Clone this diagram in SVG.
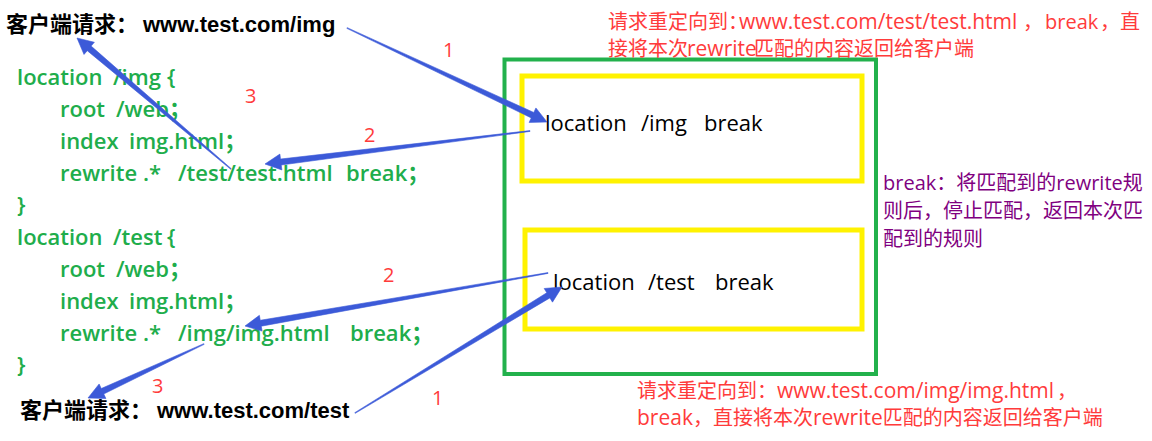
<svg xmlns="http://www.w3.org/2000/svg" width="1152" height="441" viewBox="0 0 1152 441">
<style>
.hdr{font-family:"Liberation Sans","Noto Sans CJK SC",sans-serif;font-size:22px;font-weight:bold;fill:#000}
.code{font-family:"Open Sans","Noto Sans CJK SC",sans-serif;font-size:22px;font-weight:600;fill:#20AD4B}
.loc{font-family:"Open Sans","Noto Sans CJK SC",sans-serif;font-size:22px;font-weight:500;fill:#000}
.red{font-family:"Open Sans","Noto Sans CJK SC",sans-serif;font-size:20px;fill:#FF3B3B}
.pur{font-family:"Open Sans","Noto Sans CJK SC",sans-serif;font-size:20px;fill:#800080}
.lat{font-size:21px}
.num{font-family:"Open Sans",sans-serif;font-size:20px;fill:#FF3B3B}
.green{fill:none;stroke:#22B14C;stroke-width:4}
.yellow{fill:none;stroke:#FFF200;stroke-width:5}
.arrow{fill:#3C5AD8;stroke:#3C5AD8;stroke-width:0.6;stroke-linejoin:round}
</style>
<rect width="1152" height="441" fill="#fff"/>

<g id="client-img">
<text class="hdr" x="6" y="32">客户端请求：<tspan x="143">www.test.com/img</tspan></text>
</g>
<g id="client-test">
<text class="hdr" x="20" y="418">客户端请求：<tspan x="157">www.test.com/test</tspan></text>
</g>

<g id="code-img">
<text class="code" x="17" y="85">location<tspan x="113">/img</tspan><tspan x="167">{</tspan></text>
<text class="code" x="60" y="117">root<tspan x="116">/web；</tspan></text>
<text class="code" x="60" y="149">index<tspan x="129">img.html；</tspan></text>
<text class="code" x="60" y="181">rewrite<tspan x="143">.*</tspan><tspan x="178">/test/test.html</tspan><tspan x="346">break；</tspan></text>
<text class="code" x="17" y="213">}</text>
</g>
<g id="code-test">
<text class="code" x="17" y="245">location<tspan x="113">/test</tspan><tspan x="167">{</tspan></text>
<text class="code" x="60" y="277">root<tspan x="116">/web；</tspan></text>
<text class="code" x="60" y="309">index<tspan x="129">img.html；</tspan></text>
<text class="code" x="60" y="341">rewrite<tspan x="143">.*</tspan><tspan x="178">/img/img.html</tspan><tspan x="350">break；</tspan></text>
<text class="code" x="17" y="373">}</text>
</g>

<g id="server">
<rect class="green" x="504.5" y="59.5" width="371.5" height="314.5"/>
</g>
<g id="loc-img">
<rect class="yellow" x="522" y="76" width="340" height="105"/>
<text class="loc" x="545" y="131">location<tspan x="641">/img</tspan><tspan x="704">break</tspan></text>
</g>
<g id="loc-test">
<rect class="yellow" x="525" y="230" width="337" height="99"/>
<text class="loc" x="553" y="290">location<tspan x="648">/test</tspan><tspan x="715">break</tspan></text>
</g>

<g id="note-top">
<text class="red" x="608" y="29">请求重定向到：<tspan class="lat" x="739">www.test.com/test/test.html</tspan><tspan x="1023">，</tspan><tspan x="1045">break</tspan><tspan x="1100">，直</tspan></text>
<text class="red" x="608" y="56">接将本次<tspan class="lat" x="687">rewrite</tspan><tspan x="754">匹配的内容返回给客户端</tspan></text>
</g>
<g id="note-break">
<text class="pur" x="883" y="190">break：将匹配到的rewrite规</text>
<text class="pur" x="883" y="218">则后，停止匹配，返回本次匹</text>
<text class="pur" x="883" y="246">配到的规则</text>
</g>
<g id="note-bottom">
<text class="red" x="637" y="398">请求重定向到：<tspan class="lat" x="777">www.test.com/img/img.html</tspan><tspan x="1057">，</tspan></text>
<text class="red" x="637" y="425"><tspan class="lat">break</tspan>，直接将本次<tspan class="lat">rewrite</tspan>匹配的内容返回给客户端</text>
</g>

<g id="connectors">
<polygon class="arrow" points="347.17,27.64 533.80,112.48 535.92,107.95 547,122 529.12,122.43 531.24,117.9 346.83,28.36"/>
<polygon class="arrow" points="530.05,131.40 281.25,165.0 281.87,169.96 265,164 279.89,154.08 280.51,159.04 529.95,130.60"/>
<polygon class="arrow" points="230.74,169.30 87.25,50.66 84.01,54.46 77,38 94.37,42.28 91.13,46.08 231.26,168.70"/>
<polygon class="arrow" points="548.07,273.39 261.28,326.20 262.14,331.12 245,326 259.38,315.36 260.24,320.29 547.93,272.61"/>
<polygon class="arrow" points="204.17,344.36 103.78,393.97 105.89,398.50 88,398 99.13,383.98 101.24,388.53 203.83,343.64"/>
<polygon class="arrow" points="354.79,412.66 546.77,292.76 544.17,288.49 562,287 552.49,302.15 549.89,297.88 355.21,413.34"/>
</g>

<g id="labels">
<text class="num" x="443" y="57">1</text>
<text class="num" x="245" y="103">3</text>
<text class="num" x="364" y="142">2</text>
<text class="num" x="383" y="282">2</text>
<text class="num" x="152" y="393">3</text>
<text class="num" x="432" y="405">1</text>
</g>
</svg>
